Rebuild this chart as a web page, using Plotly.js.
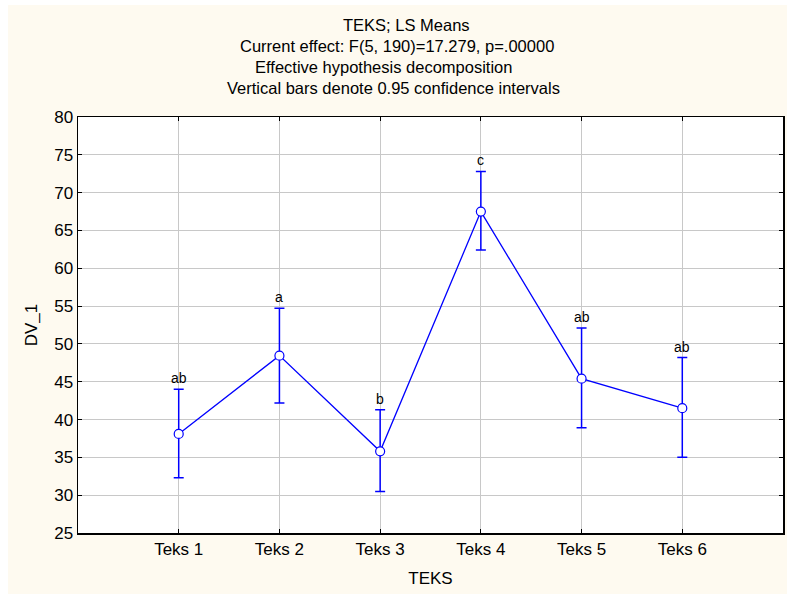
<!DOCTYPE html>
<html>
<head>
<meta charset="utf-8">
<script src="https://cdn.plot.ly/plotly-3.0.1.min.js"></script>
<style>
  html, body { margin: 0; padding: 0; background: #ffffff; width: 787px; height: 594px; overflow: hidden; }
  #chart { position: absolute; left: 8px; top: 5px; width: 779px; height: 589px; }
</style>
</head>
<body>
<div id="chart"></div>
<script>
const categories = ['Teks 1', 'Teks 2', 'Teks 3', 'Teks 4', 'Teks 5', 'Teks 6'];
const means = [38.1, 48.45, 35.8, 67.5, 45.4, 41.5];
const upperCI = [44.0, 54.7, 41.3, 72.8, 52.1, 48.2];
const lowerCI = [32.3, 42.2, 30.5, 62.4, 38.9, 35.0];
const letters = ['ab', 'a', 'b', 'c', 'ab', 'ab'];
const titleLines = [
  'TEKS; LS Means',
  'Current effect: F(5, 190)=17.279, p=.00000',
  'Effective hypothesis decomposition',
  'Vertical bars denote 0.95 confidence intervals'
];
const yTicks = [25, 30, 35, 40, 45, 50, 55, 60, 65, 70, 75, 80];

const blue = '#0000ff';
const font = 'Arial, "Liberation Sans", sans-serif';

const trace = {
  type: 'scatter',
  mode: 'lines+markers',
  x: categories,
  y: means,
  line: { color: blue, width: 1.3 },
  marker: { symbol: 'circle', size: 9, color: '#ffffff', line: { color: blue, width: 1.2 } },
  error_y: {
    type: 'data',
    symmetric: false,
    array: upperCI.map((u, i) => u - means[i]),
    arrayminus: means.map((m, i) => m - lowerCI[i]),
    color: blue,
    thickness: 1.5,
    width: 5
  },
  hoverinfo: 'x+y'
};

// plot area in page px: left 78, right 783, top 117, bottom 533
const plotL = 78, plotW = 705;
const titleLeft = [null, 238, 253, 225];
const titleY = [25, 46, 67, 88];

const annotations = [];
titleLines.forEach((t, i) => {
  const a = {
    text: t, xref: 'paper', yref: 'paper',
    y: 1 + (117 - titleY[i]) / 416, yanchor: 'middle',
    showarrow: false, font: { family: font, size: 16.5, color: '#000000' }
  };
  if (titleLeft[i] === null) { a.x = (406 - plotL) / plotW; a.xanchor = 'center'; }
  else { a.x = (titleLeft[i] - plotL) / plotW; a.xanchor = 'left'; }
  annotations.push(a);
});
letters.forEach((l, i) => {
  annotations.push({
    text: l, x: categories[i], y: upperCI[i], xref: 'x', yref: 'y',
    yanchor: 'bottom', yshift: 1, showarrow: false,
    font: { family: font, size: 14, color: '#000000' }
  });
});

const layout = {
  width: 779, height: 589,
  paper_bgcolor: '#fefaf0',
  plot_bgcolor: '#ffffff',
  margin: { l: 70, r: 4, t: 112, b: 61 },
  showlegend: false,
  font: { family: font, size: 17, color: '#000000' },
  xaxis: {
    type: 'category',
    range: [-1, 6],
    showgrid: true, gridcolor: '#c8c8c8', gridwidth: 1,
    showline: true, linecolor: '#000000', linewidth: 1.5, mirror: 'ticks',
    ticks: 'inside', ticklen: 4, tickcolor: '#000000',
    tickfont: { family: font, size: 17 },
    title: { text: 'TEKS', font: { family: font, size: 17 }, standoff: 14 },
    zeroline: false, fixedrange: true
  },
  yaxis: {
    range: [25, 80],
    tickvals: yTicks,
    showgrid: true, gridcolor: '#c8c8c8', gridwidth: 1,
    showline: true, linecolor: '#000000', linewidth: 1.5, mirror: 'ticks',
    ticks: 'inside', ticklen: 4, tickcolor: '#000000',
    tickfont: { family: font, size: 17 },
    title: { text: 'DV_1', font: { family: font, size: 17 }, standoff: 12 },
    zeroline: false, fixedrange: true
  },
  annotations: annotations
};

Plotly.newPlot('chart', [trace], layout, { displayModeBar: false, staticPlot: true });
</script>
</body>
</html>
